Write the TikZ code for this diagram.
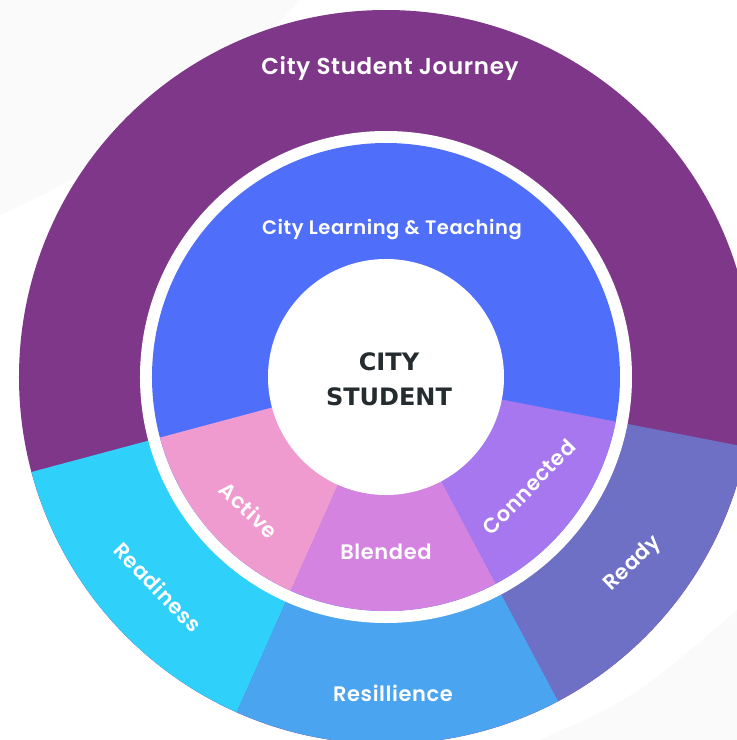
\documentclass[tikz,border=0pt]{standalone}
\usepackage{fontspec}
\newfontfamily\ringfont{Poppins SemiBold}[LetterSpace=3]
\newfontfamily\corefont{DejaVu Sans}
\definecolor{journey}{HTML}{7F3789}
\definecolor{teaching}{HTML}{4F6FFB}
\definecolor{readiness}{HTML}{2FD1FB}
\definecolor{resilience}{HTML}{4AA4EF}
\definecolor{ready}{HTML}{6E70C6}
\definecolor{active}{HTML}{F09BD0}
\definecolor{blended}{HTML}{D483E0}
\definecolor{connected}{HTML}{A777EF}
\definecolor{coretext}{HTML}{252C30}
\definecolor{haze}{HTML}{FAFAFB}
\tikzset{
  ring/.style  = {font=\ringfont\fontsize{21}{25}\selectfont, text=white, inner sep=0pt},
  title/.style = {ring, font=\ringfont\fontsize{23}{27}\selectfont},
  core/.style  = {font=\corefont\bfseries\fontsize{24}{35}\selectfont, text=coretext, align=center}
}
\def\rout{367}
\def\rgap{246}
\def\rmid{234}
\def\rin{118}

\begin{document}
\begin{tikzpicture}[x=1pt, y=1pt]
\fill[white] (-386,-363) rectangle (351,377);
\useasboundingbox (-386,-363) rectangle (351,377);

% faint sweeps in the background
\fill[haze] (-386,377) -- (-386,162) .. controls (-286,207) and (-186,267) .. (-86,377) -- cycle;
\fill[haze] (351,-363) -- (154,-363) .. controls (250,-320) .. (351,-233) -- cycle;

% outer ring, the journey
\fill[journey] (0,0) circle (\rout);
\foreach \from/\to/\col in {-165/-114/readiness, -114/-62/resilience, -62/-11/ready}
  \fill[\col] (0,0) -- (\from:\rout) arc (\from:\to:\rout) -- cycle;

% white gap between the rings
\fill[white] (0,0) circle (\rgap);

% inner ring, learning and teaching
\fill[teaching] (0,0) circle (\rmid);
\foreach \from/\to/\col in {-165/-114/active, -114/-62/blended, -62/-11/connected}
  \fill[\col] (0,0) -- (\from:\rmid) arc (\from:\to:\rmid) -- cycle;

% the student in the middle
\fill[white] (0,0) circle (\rin);
\node[core] (student) at (3,-2) {CITY\\STUDENT};

% labels of the inner ring
\node[title, font=\ringfont\fontsize{19.5}{23}\selectfont] (teach) at (6,147) {City Learning \& Teaching};
\node[ring, rotate=-43] (act) at (-137,-133) {Active};
\node[ring] (blend) at (0,-175) {Blended};
\node[ring, rotate=46] (conn) at (143,-110) {Connected};

% labels of the outer ring
\node[title] (jour) at (4,309) {City Student Journey};
\node[ring, rotate=-46] (readi) at (-228,-210) {Readiness};
\node[ring] (resil) at (7,-316) {Resillience};
\node[ring, rotate=44] (rdy) at (247,-187) {Ready};

\end{tikzpicture}
\end{document}
